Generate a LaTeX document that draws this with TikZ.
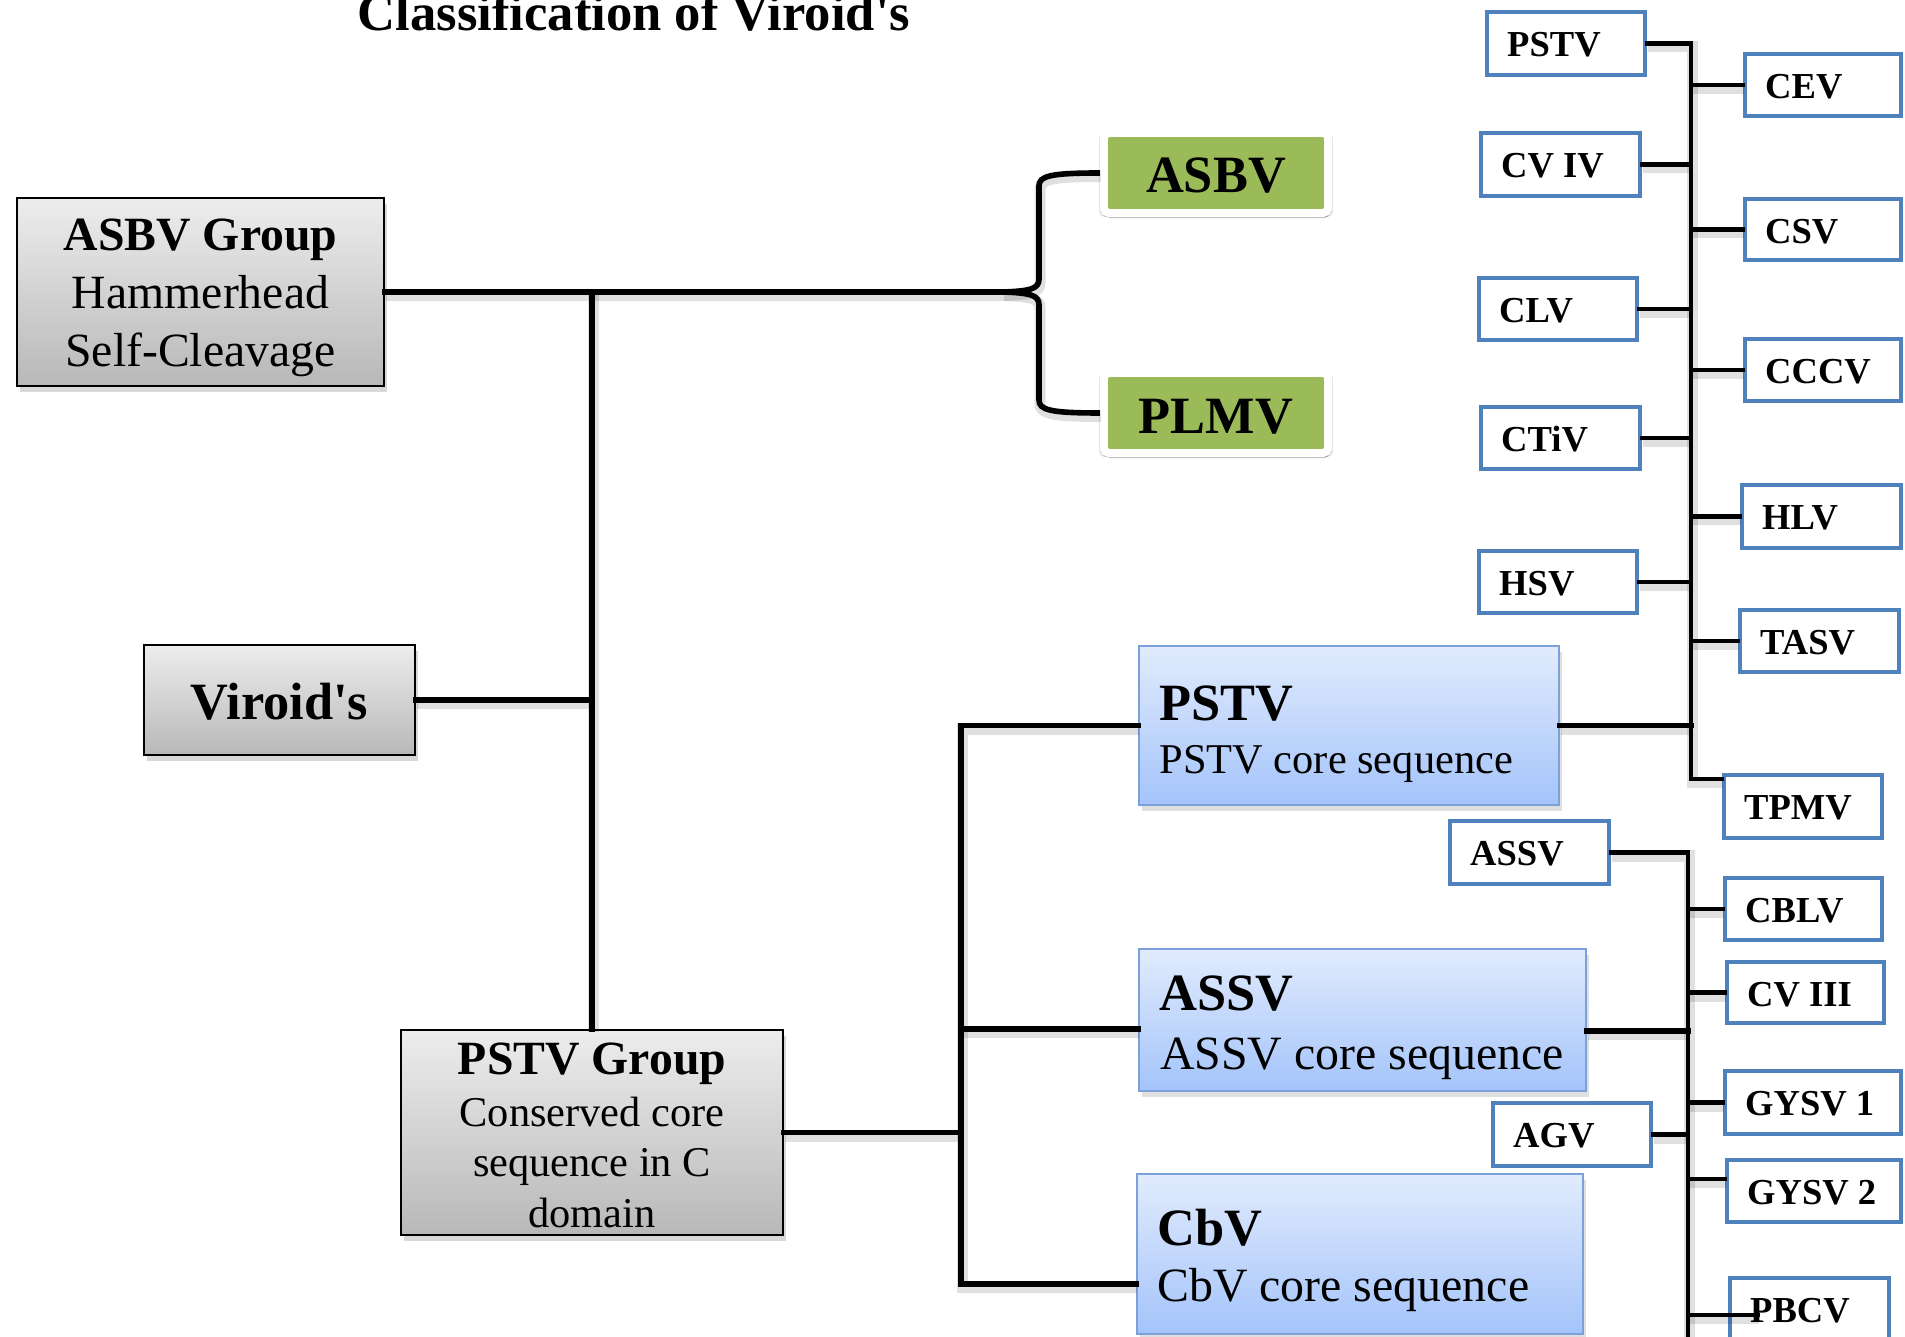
\documentclass[tikz,border=0pt]{standalone}
\usepackage{fontspec}
\setmainfont{Liberation Serif}[Ligatures=TeXOff]
\usetikzlibrary{shadows}
\definecolor{sbblue}{RGB}{79,129,189}
\definecolor{bltop}{RGB}{225,235,253}
\definecolor{blbot}{RGB}{164,196,250}
\definecolor{blborder}{RGB}{124,160,218}
\definecolor{grtop}{RGB}{237,237,237}
\definecolor{grbot}{RGB}{184,184,184}
\definecolor{greenfill}{RGB}{155,187,89}
\tikzset{
  lineshadow/.style={preaction={draw=black, opacity=0.12, line width=1.1mm, transform canvas={xshift=0.1mm, yshift=-0.35mm}}},
  conn/.style={line width=0.56mm, black, line cap=rect, lineshadow},
  cconn/.style={line width=0.48mm, black, line cap=rect, lineshadow},
  smallbox/.style={draw=sbblue, line width=0.4mm, fill=white, inner sep=0pt},
  smalltxt/.style={font=\fontsize{10.4pt}{12pt}\selectfont\bfseries, inner sep=0pt},
  graybox/.style={draw=black, line width=0.25mm, top color=grtop, bottom color=grbot, inner sep=0pt,
    drop shadow={shadow xshift=0.3mm, shadow yshift=-0.6mm, opacity=0.3}},
  bluebox/.style={draw=blborder, line width=0.2mm, top color=bltop, bottom color=blbot, inner sep=0pt,
    drop shadow={shadow xshift=0.3mm, shadow yshift=-0.6mm, opacity=0.25}},
  greenbox/.style={fill=greenfill, draw=white, line width=0.8mm, rounded corners=0.5mm, inner sep=0pt,
    general shadow={shadow xshift=0mm, shadow yshift=-0.2mm, shadow scale=1.045, opacity=0.10, fill=black, rounded corners=1mm},
    general shadow={shadow xshift=0mm, shadow yshift=-0.3mm, shadow scale=1.025, opacity=0.14, fill=black, rounded corners=0.8mm},
    general shadow={shadow xshift=0.1mm, shadow yshift=-0.5mm, shadow scale=1.0, opacity=0.25, fill=black, rounded corners=0.5mm}},
  titletxt/.style={font=\fontsize{14.96pt}{18pt}\selectfont\bfseries, inner sep=0pt, anchor=base},
  gbold/.style={font=\fontsize{13.57pt}{16pt}\selectfont\bfseries, inner sep=0pt, anchor=base},
  greg/.style={font=\fontsize{13.57pt}{16pt}\selectfont, inner sep=0pt, anchor=base},
  preg/.style={font=\fontsize{12.06pt}{14pt}\selectfont, inner sep=0pt, anchor=base},
  bigbold/.style={font=\fontsize{14.9pt}{18pt}\selectfont\bfseries, inner sep=0pt},
  bodysmall/.style={font=\fontsize{12.06pt}{14pt}\selectfont, inner sep=0pt, anchor=base west},
  bodylarge/.style={font=\fontsize{13.6pt}{16pt}\selectfont, inner sep=0pt, anchor=base west},
}
\newcommand{\smallbx}[6]{%
  \node[smallbox, minimum width={(#4-#2-4)*0.1mm}, minimum height={(#5-#3-4)*0.1mm}] (#1) at ({(#2+#4)/2},{(#3+#5)/2}) {};
  \node[smalltxt, anchor=base west] (#1-t) at ({#2+21.5},{#3+46.2}) {#6};
}
\begin{document}
\begin{tikzpicture}[x=0.01cm, y=-0.01cm]
\path[use as bounding box, clip] (0,0) rectangle (1905,1337);
\fill[white] (0,0) rectangle (1905,1337);

% title
\node[titletxt] (title) at (634,30.7) {Classification of Viroid's};

% junction coordinates
\coordinate (tj) at (592,292);
\coordinate (brtip) at (1003,292);
\coordinate (bk) at (961,1132.5);
\coordinate (bkt) at (961,725);
\coordinate (bka) at (961,1029);
\coordinate (bkb) at (961,1284);

% gray boxes
\node[graybox, minimum width=36.65mm, minimum height=18.75mm] (asbvg) at (200.5,292) {};
\node[gbold] (asbvg-t1) at (200.5,250.7) {ASBV Group};
\node[greg] (asbvg-t2) at (200.5,309) {Hammerhead};
\node[greg] (asbvg-t3) at (200.5,366.7) {Self-Cleavage};

\node[graybox, minimum width=27.05mm, minimum height=10.95mm] (viroid) at (279.5,700) {};
\node[bigbold, anchor=base] (viroid-t) at (279.5,719.7) {Viroid's};

\node[graybox, minimum width=38.15mm, minimum height=20.45mm] (pstvg) at (592,1132.5) {};
\node[gbold] (pstvg-t1) at (592,1075) {PSTV Group};
\node[preg] (pstvg-t2) at (592,1126.6) {Conserved core};
\node[preg] (pstvg-t3) at (592,1177) {sequence in C};
\node[preg] (pstvg-t4) at (592,1228) {domain};

% green boxes
\node[greenbox, minimum width=22.4mm, minimum height=8mm] (asbv) at (1216,173) {};
\node[bigbold, anchor=base] (asbv-t) at (1216,192.7) {ASBV};
\node[greenbox, minimum width=22.4mm, minimum height=8mm] (plmv) at (1216,413) {};
\node[bigbold, anchor=base] (plmv-t) at (1216,433.3) {PLMV};

% blue boxes
\node[bluebox, minimum width=42mm, minimum height=15.9mm] (pstvb) at (1349,725.5) {};
\node[bigbold, anchor=base west] (pstvb-t1) at (1158.9,720.2) {PSTV};
\node[bodysmall] (pstvb-t2) at (1158.9,773.4) {PSTV core sequence};

\node[bluebox, minimum width=44.7mm, minimum height=14.2mm] (assvb) at (1362.5,1020) {};
\node[bigbold, anchor=base west] (assvb-t1) at (1158.9,1011) {ASSV};
\node[bodylarge] (assvb-t2) at (1159.5,1069.6) {ASSV core sequence};

\node[bluebox, minimum width=44.6mm, minimum height=16mm] (cbvb) at (1360,1254) {};
\node[bigbold, anchor=base west] (cbvb-t1) at (1156.7,1245.4) {CbV};
\node[bodylarge] (cbvb-t2) at (1156.7,1301.8) {CbV core sequence};

% small boxes
\smallbx{pstvs}{1485}{10}{1647}{77}{PSTV}
\smallbx{cev}{1743}{52}{1903}{118}{CEV}
\smallbx{cviv}{1479}{131}{1642}{198}{CV IV}
\smallbx{csv}{1743}{197}{1903}{262}{CSV}
\smallbx{clv}{1477}{276}{1639}{342}{CLV}
\smallbx{cccv}{1743}{337}{1903}{403}{CCCV}
\smallbx{ctiv}{1479}{405}{1642}{471}{CTiV}
\smallbx{hlv}{1740}{483}{1903}{550}{HLV}
\smallbx{hsv}{1477}{549}{1639}{615}{HSV}
\smallbx{tasv}{1738}{608}{1901}{674}{TASV}
\smallbx{tpmv}{1722}{773}{1884}{840}{TPMV}
\smallbx{assvs}{1448}{819}{1611}{886}{ASSV}
\smallbx{cblv}{1723}{876}{1884}{942}{CBLV}
\smallbx{cviii}{1725}{960}{1886}{1025}{CV III}
\smallbx{gysva}{1723}{1069}{1903}{1136}{GYSV 1}
\smallbx{agv}{1491}{1101}{1653}{1168}{AGV}
\smallbx{gysvb}{1725}{1158}{1903}{1224}{GYSV 2}
\smallbx{pbcv}{1728}{1276}{1891}{1342}{PBCV}

% connectors: left part
\draw[conn] (asbvg.east) -- (brtip);
\draw[conn, line cap=butt] (brtip) .. controls (1030,291) and (1039,289) .. (1039,279) -- (1039,186) .. controls (1039,176) and (1050,173) .. (asbv.west);
\draw[conn, line cap=butt] (brtip) .. controls (1030,293) and (1039,295) .. (1039,305) -- (1039,400) .. controls (1039,410) and (1050,413) .. (plmv.west);
\draw[conn] (tj) -- (pstvg.north);
\draw[conn] (viroid.east) -- (viroid.east -| tj);

\draw[conn] (pstvg.east) -- (bk);
\draw[conn] (pstvb.west) -- (pstvb.west -| bkt) -- (bkb) -- (bkb -| cbvb.west);
\draw[conn] (bka) -- (bka -| assvb.west);

% upper cluster
\coordinate (ut) at (1691,43.5);
\coordinate (ub) at (1691,779);
\draw[cconn] (pstvs.east) -- (pstvs.east -| ut) -- (ub) -- (ub -| tpmv.west);
\foreach \n in {cev,csv,cccv,hlv,tasv} \draw[cconn] (\n.west) -- (\n.west -| ut);
\foreach \n in {cviv,clv,ctiv,hsv} \draw[cconn] (\n.east) -- (\n.east -| ut);
\draw[conn] (pstvb.east) -- (pstvb.east -| ut);

% lower cluster
\coordinate (lt) at (1688,849);
\coordinate (lb) at (1688,1345);
\coordinate (la) at (1688,1031);
\coordinate (lg) at (1688,1179);
\coordinate (lp) at (1688,1315);
\coordinate (lpe) at (1758,1315);
\draw[cconn] (assvs.east) -- (assvs.east -| lt) -- (lb);
\foreach \n in {cblv,cviii,gysva} \draw[cconn] (\n.west) -- (\n.west -| lt);
\draw[cconn] (agv.east) -- (agv.east -| lt);
\draw[conn] (la -| assvb.east) -- (la);
\draw[cconn] (lg) -- (lg -| gysvb.west);
\draw[cconn] (lp) -- (lpe);
\end{tikzpicture}
\end{document}
